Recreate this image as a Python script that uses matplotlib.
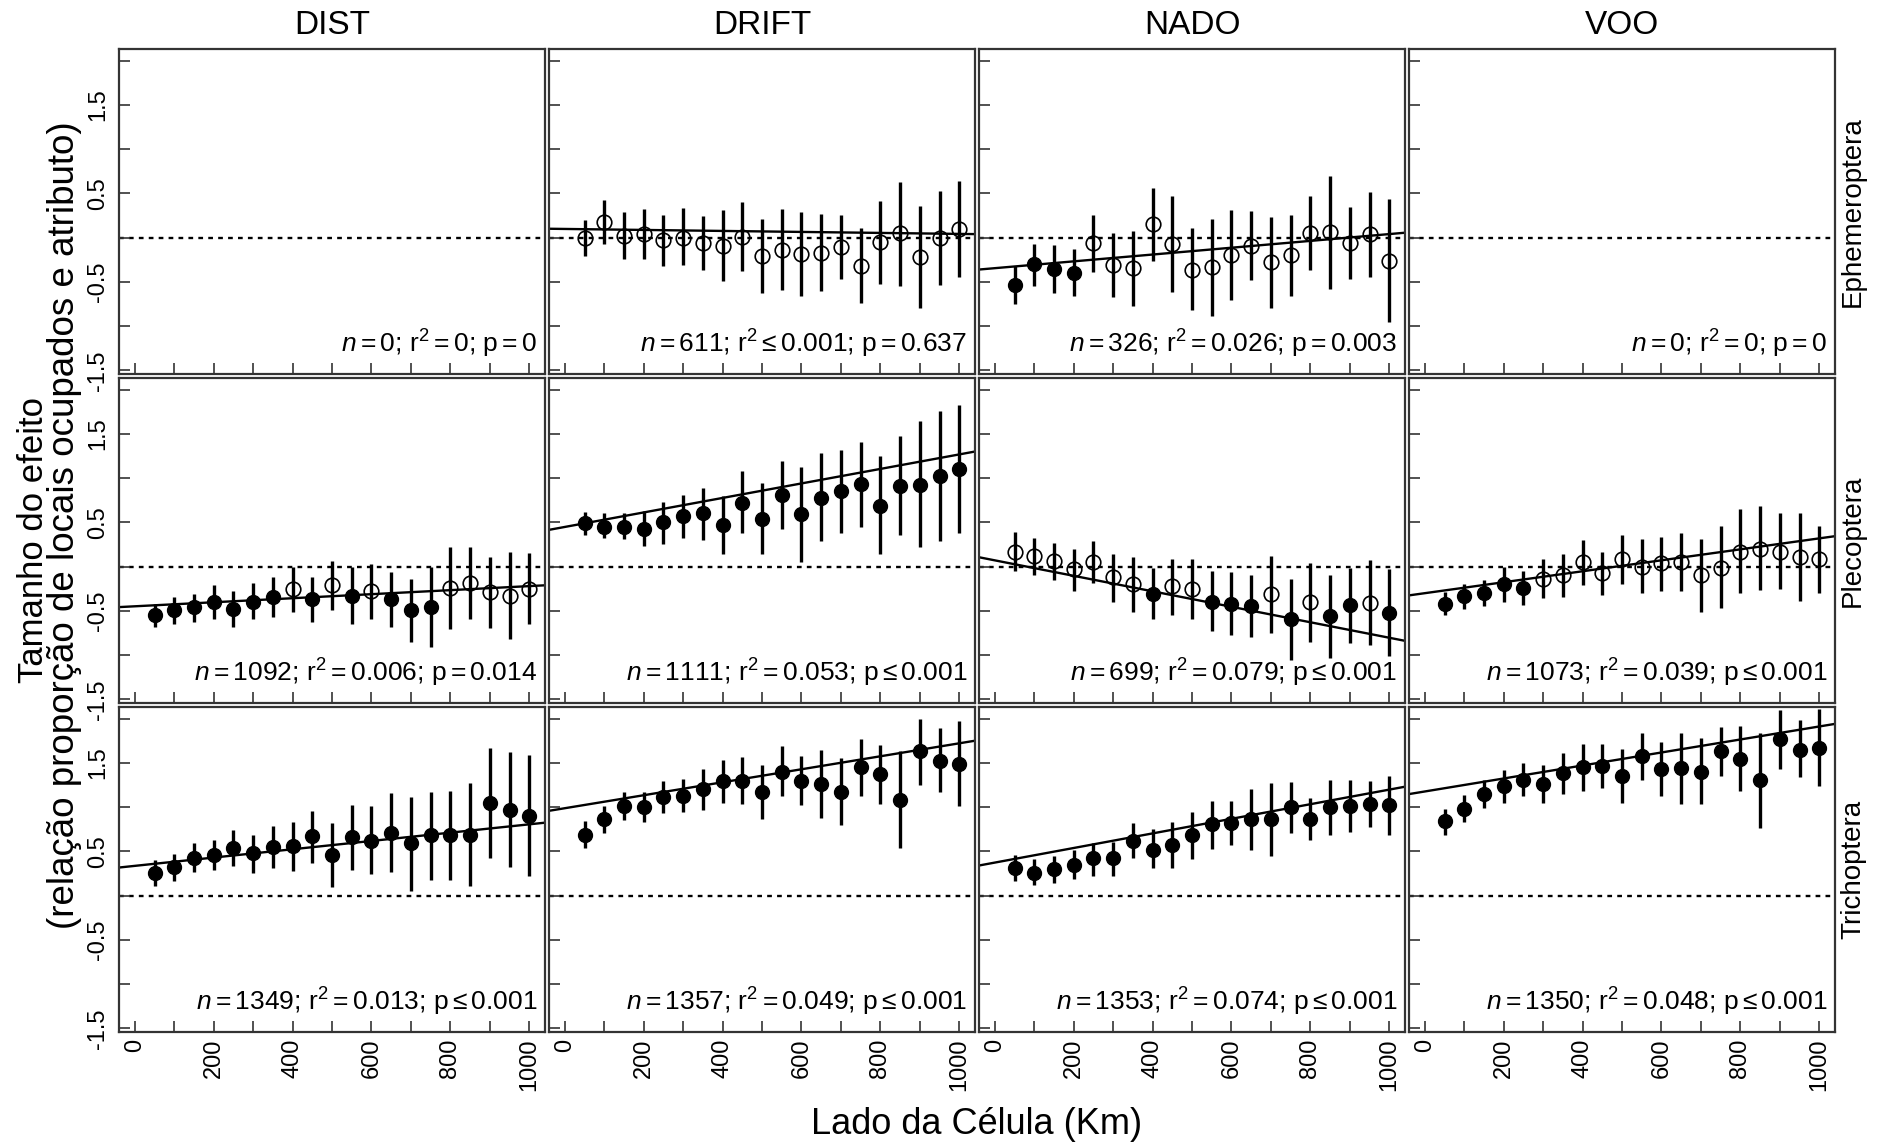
import matplotlib
matplotlib.use("Agg")
import matplotlib.pyplot as plt
from matplotlib.ticker import FixedLocator

plt.rcParams['font.family'] = ['Liberation Sans', 'DejaVu Sans']
plt.rcParams['mathtext.fontset'] = 'custom'
plt.rcParams['mathtext.rm'] = 'Liberation Sans'
plt.rcParams['mathtext.it'] = 'Liberation Sans:italic'

# --- data ---
x = [50, 100, 150, 200, 250, 300, 350, 400, 450, 500,
     550, 600, 650, 700, 750, 800, 850, 900, 950, 1000]

cols = ["DIST", "DRIFT", "NADO", "VOO"]
rows = ["Ephemeroptera", "Plecoptera", "Trichoptera"]

# Ephemeroptera / DRIFT
drift_eph_mean = [0.00, 0.18, 0.02, 0.04, -0.03, 0.00, -0.06, -0.09, 0.01, -0.21,
                  -0.14, -0.19, -0.17, -0.11, -0.32, -0.05, 0.05, -0.22, 0.00, 0.10]
drift_eph_hi = [0.20, 0.42, 0.29, 0.32, 0.26, 0.33, 0.24, 0.31, 0.40, 0.21,
                0.32, 0.29, 0.27, 0.26, 0.11, 0.41, 0.63, 0.36, 0.53, 0.64]
drift_eph_lo = [-0.21, -0.07, -0.24, -0.24, -0.32, -0.31, -0.36, -0.49, -0.38, -0.63,
                -0.59, -0.66, -0.60, -0.47, -0.74, -0.52, -0.55, -0.80, -0.53, -0.45]
drift_eph_sig = [0] * 20

# Ephemeroptera / NADO
nado_eph_mean = [-0.53, -0.30, -0.35, -0.40, -0.06, -0.31, -0.34, 0.15, -0.07, -0.36,
                 -0.33, -0.20, -0.09, -0.28, -0.20, 0.05, 0.06, -0.06, 0.04, -0.26]
nado_eph_hi = [-0.32, -0.07, -0.08, -0.13, 0.26, 0.05, 0.08, 0.56, 0.47, 0.11,
               0.21, 0.31, 0.30, 0.23, 0.26, 0.47, 0.70, 0.35, 0.51, 0.44]
nado_eph_lo = [-0.75, -0.55, -0.62, -0.66, -0.39, -0.67, -0.77, -0.26, -0.61, -0.82,
               -0.89, -0.71, -0.48, -0.79, -0.66, -0.37, -0.58, -0.47, -0.44, -0.95]
nado_eph_sig = [1, 1, 1, 1, 0, 0, 0, 0, 0, 0, 0, 0, 0, 0, 0, 0, 0, 0, 0, 0]

# Plecoptera / DIST
dist_ple_mean = [-0.55, -0.49, -0.46, -0.40, -0.48, -0.40, -0.34, -0.25, -0.37, -0.21,
                 -0.33, -0.28, -0.37, -0.49, -0.46, -0.24, -0.18, -0.29, -0.33, -0.25]
dist_ple_hi = [-0.42, -0.34, -0.31, -0.21, -0.28, -0.18, -0.12, 0.00, -0.12, 0.06,
               0.00, 0.03, -0.06, -0.14, 0.00, 0.22, 0.22, 0.11, 0.16, 0.15]
dist_ple_lo = [-0.68, -0.65, -0.62, -0.59, -0.68, -0.59, -0.57, -0.51, -0.62, -0.49,
               -0.65, -0.59, -0.68, -0.85, -0.91, -0.70, -0.59, -0.69, -0.82, -0.65]
dist_ple_sig = [1, 1, 1, 1, 1, 1, 1, 0, 1, 0, 1, 0, 1, 1, 1, 0, 0, 0, 0, 0]

# Plecoptera / DRIFT
drift_ple_mean = [0.49, 0.45, 0.45, 0.43, 0.50, 0.57, 0.60, 0.47, 0.72, 0.54,
                  0.81, 0.59, 0.78, 0.85, 0.93, 0.69, 0.91, 0.92, 1.02, 1.10]
drift_ple_hi = [0.62, 0.60, 0.60, 0.63, 0.73, 0.81, 0.89, 0.80, 1.08, 0.94,
                1.19, 1.12, 1.28, 1.32, 1.41, 1.25, 1.48, 1.64, 1.76, 1.82]
drift_ple_lo = [0.36, 0.32, 0.31, 0.23, 0.26, 0.32, 0.30, 0.14, 0.38, 0.14,
                0.42, 0.05, 0.29, 0.38, 0.45, 0.14, 0.36, 0.22, 0.29, 0.38]
drift_ple_sig = [1] * 20

# Plecoptera / NADO
nado_ple_mean = [0.17, 0.12, 0.06, -0.03, 0.05, -0.12, -0.20, -0.31, -0.22, -0.25,
                 -0.40, -0.42, -0.44, -0.31, -0.59, -0.40, -0.56, -0.43, -0.41, -0.52]
nado_ple_hi = [0.39, 0.32, 0.27, 0.20, 0.29, 0.14, 0.11, -0.02, 0.09, 0.09,
               -0.05, -0.06, -0.10, 0.12, -0.14, 0.04, -0.10, -0.02, 0.07, -0.03]
nado_ple_lo = [-0.05, -0.10, -0.15, -0.28, -0.18, -0.40, -0.51, -0.59, -0.55, -0.59,
               -0.73, -0.77, -0.80, -0.75, -1.05, -0.85, -1.03, -0.86, -0.88, -1.01]
nado_ple_sig = [0, 0, 0, 0, 0, 0, 0, 1, 0, 0, 1, 1, 1, 0, 1, 0, 1, 1, 0, 1]

# Plecoptera / VOO
voo_ple_mean = [-0.42, -0.33, -0.30, -0.20, -0.24, -0.14, -0.10, 0.05, -0.07, 0.09,
                0.00, 0.04, 0.05, -0.10, -0.01, 0.17, 0.20, 0.17, 0.11, 0.09]
voo_ple_hi = [-0.29, -0.20, -0.15, 0.00, -0.05, 0.09, 0.14, 0.30, 0.17, 0.36,
              0.31, 0.34, 0.38, 0.31, 0.46, 0.65, 0.68, 0.61, 0.61, 0.46]
voo_ple_lo = [-0.55, -0.48, -0.45, -0.40, -0.43, -0.35, -0.34, -0.21, -0.32, -0.20,
              -0.30, -0.27, -0.28, -0.51, -0.47, -0.30, -0.26, -0.25, -0.39, -0.30]
voo_ple_sig = [1, 1, 1, 1, 1, 0, 0, 0, 0, 0, 0, 0, 0, 0, 0, 0, 0, 0, 0, 0]

# Trichoptera / DIST
dist_tri_mean = [0.26, 0.32, 0.43, 0.46, 0.54, 0.48, 0.55, 0.56, 0.67, 0.46,
                 0.66, 0.62, 0.71, 0.59, 0.68, 0.69, 0.69, 1.05, 0.97, 0.90]
dist_tri_hi = [0.40, 0.47, 0.59, 0.63, 0.74, 0.69, 0.79, 0.83, 0.95, 0.82,
               1.02, 1.01, 1.16, 1.11, 1.17, 1.18, 1.27, 1.67, 1.62, 1.59]
dist_tri_lo = [0.11, 0.17, 0.27, 0.29, 0.33, 0.26, 0.31, 0.28, 0.37, 0.10,
               0.29, 0.24, 0.27, 0.05, 0.18, 0.18, 0.11, 0.43, 0.32, 0.22]
dist_tri_sig = [1] * 20

# Trichoptera / DRIFT
drift_tri_mean = [0.69, 0.86, 1.01, 1.00, 1.11, 1.13, 1.20, 1.29, 1.29, 1.17,
                  1.40, 1.30, 1.26, 1.17, 1.45, 1.37, 1.08, 1.63, 1.52, 1.49]
drift_tri_hi = [0.84, 1.01, 1.17, 1.17, 1.30, 1.32, 1.43, 1.53, 1.56, 1.48,
                1.69, 1.58, 1.65, 1.55, 1.77, 1.70, 1.63, 2.00, 1.89, 1.97]
drift_tri_lo = [0.54, 0.71, 0.85, 0.83, 0.93, 0.94, 0.97, 1.05, 1.03, 0.87,
                1.12, 1.02, 0.88, 0.80, 1.12, 1.04, 0.54, 1.25, 1.17, 1.01]
drift_tri_sig = [1] * 20

# Trichoptera / NADO
nado_tri_mean = [0.31, 0.26, 0.30, 0.35, 0.42, 0.42, 0.62, 0.52, 0.57, 0.68,
                 0.81, 0.82, 0.86, 0.86, 1.00, 0.86, 1.00, 1.01, 1.03, 1.02]
nado_tri_hi = [0.46, 0.41, 0.45, 0.51, 0.59, 0.61, 0.82, 0.75, 0.83, 0.94,
               1.07, 1.07, 1.20, 1.27, 1.28, 1.10, 1.31, 1.31, 1.29, 1.35]
nado_tri_lo = [0.16, 0.12, 0.14, 0.19, 0.22, 0.22, 0.43, 0.31, 0.31, 0.41,
               0.53, 0.57, 0.52, 0.45, 0.71, 0.63, 0.69, 0.72, 0.78, 0.68]
nado_tri_sig = [1] * 20

# Trichoptera / VOO
voo_tri_mean = [0.84, 0.98, 1.15, 1.24, 1.31, 1.26, 1.38, 1.45, 1.46, 1.35,
                1.58, 1.43, 1.44, 1.40, 1.63, 1.54, 1.31, 1.77, 1.65, 1.67]
voo_tri_hi = [0.98, 1.14, 1.31, 1.42, 1.50, 1.48, 1.61, 1.71, 1.71, 1.66,
              1.84, 1.74, 1.84, 1.78, 1.90, 1.91, 1.84, 2.10, 1.98, 2.11]
voo_tri_lo = [0.68, 0.83, 0.99, 1.05, 1.12, 1.05, 1.15, 1.18, 1.21, 1.05,
              1.31, 1.12, 1.04, 1.03, 1.35, 1.18, 0.76, 1.43, 1.34, 1.24]
voo_tri_sig = [1] * 20

# regression fits (intercept, slope) and stats text
fit_a = {(0, 1): 0.098, (0, 2): -0.345,
         (1, 0): -0.448, (1, 1): 0.448, (1, 2): 0.071, (1, 3): -0.300,
         (2, 0): 0.336, (2, 1): 0.987, (2, 2): 0.373, (2, 3): 1.176}
fit_b = {(0, 1): -5.6e-5, (0, 2): 3.85e-4,
         (1, 0): 2.28e-4, (1, 1): 8.19e-4, (1, 2): -8.74e-4, (1, 3): 6.19e-4,
         (2, 0): 4.69e-4, (2, 1): 7.33e-4, (2, 2): 8.24e-4, (2, 3): 7.34e-4}

stats = [
    [r"$\mathit{n} = 0$; r$^2 = 0$; p$ = 0$",
     r"$\mathit{n} = 611$; r$^2 \leq 0.001$; p$ = 0.637$",
     r"$\mathit{n} = 326$; r$^2 = 0.026$; p$ = 0.003$",
     r"$\mathit{n} = 0$; r$^2 = 0$; p$ = 0$"],
    [r"$\mathit{n} = 1092$; r$^2 = 0.006$; p$ = 0.014$",
     r"$\mathit{n} = 1111$; r$^2 = 0.053$; p$ \leq 0.001$",
     r"$\mathit{n} = 699$; r$^2 = 0.079$; p$ \leq 0.001$",
     r"$\mathit{n} = 1073$; r$^2 = 0.039$; p$ \leq 0.001$"],
    [r"$\mathit{n} = 1349$; r$^2 = 0.013$; p$ \leq 0.001$",
     r"$\mathit{n} = 1357$; r$^2 = 0.049$; p$ \leq 0.001$",
     r"$\mathit{n} = 1353$; r$^2 = 0.074$; p$ \leq 0.001$",
     r"$\mathit{n} = 1350$; r$^2 = 0.048$; p$ \leq 0.001$"],
]

panels = {
    (0, 1): (drift_eph_mean, drift_eph_lo, drift_eph_hi, drift_eph_sig),
    (0, 2): (nado_eph_mean, nado_eph_lo, nado_eph_hi, nado_eph_sig),
    (1, 0): (dist_ple_mean, dist_ple_lo, dist_ple_hi, dist_ple_sig),
    (1, 1): (drift_ple_mean, drift_ple_lo, drift_ple_hi, drift_ple_sig),
    (1, 2): (nado_ple_mean, nado_ple_lo, nado_ple_hi, nado_ple_sig),
    (1, 3): (voo_ple_mean, voo_ple_lo, voo_ple_hi, voo_ple_sig),
    (2, 0): (dist_tri_mean, dist_tri_lo, dist_tri_hi, dist_tri_sig),
    (2, 1): (drift_tri_mean, drift_tri_lo, drift_tri_hi, drift_tri_sig),
    (2, 2): (nado_tri_mean, nado_tri_lo, nado_tri_hi, nado_tri_sig),
    (2, 3): (voo_tri_mean, voo_tri_lo, voo_tri_hi, voo_tri_sig),
}

# --- layout (pixels) ---
W, H = 1892, 1147
col_left = [119, 549, 979, 1409]
row_top = [49, 378, 707]
pw, ph = 426, 325
xlim = (-40, 1040)
ylim = (-1.54, 2.13)
frame = "#333333"

fig = plt.figure(figsize=(W / 100, H / 100), dpi=100)

for r in range(3):
    for c in range(4):
        ax = fig.add_axes([col_left[c] / W, (H - row_top[r] - ph) / H, pw / W, ph / H])
        ax.set_xlim(*xlim)
        ax.set_ylim(*ylim)
        for s in ax.spines.values():
            s.set_color(frame)
            s.set_linewidth(1.6)

        ax.axhline(0, color="black", lw=1.7, ls=(0, (2, 2.2)), zorder=1)

        if (r, c) in panels:
            mean, lo, hi, sig = panels[(r, c)]
            a, b = fit_a[(r, c)], fit_b[(r, c)]
            ax.plot(xlim, [a + b * xlim[0], a + b * xlim[1]], color="black", lw=1.7, zorder=2)
            ax.vlines(x, lo, hi, color="black", lw=2.4, zorder=3)
            xf = [xi for xi, s in zip(x, sig) if s]
            yf = [yi for yi, s in zip(mean, sig) if s]
            xo = [xi for xi, s in zip(x, sig) if not s]
            yo = [yi for yi, s in zip(mean, sig) if not s]
            ax.plot(xf, yf, "o", color="black", ms=10, zorder=4)
            ax.plot(xo, yo, "o", mfc="none", mec="black", mew=1.2, ms=10.5, zorder=4)

        ax.text(0.982, 0.065, stats[r][c], transform=ax.transAxes,
                ha="right", va="baseline", fontsize=19)

        ax.yaxis.set_major_locator(FixedLocator([-1.5, -1.0, -0.5, 0, 0.5, 1.0, 1.5, 2.0]))
        ax.xaxis.set_major_locator(FixedLocator(list(range(0, 1001, 100))))
        ax.tick_params(direction="in", length=8, width=1.2, color=frame,
                       labelsize=17, top=False, right=False)
        if c == 0:
            ax.set_yticklabels(["-1.5", "", "-0.5", "", "0.5", "", "1.5", ""],
                               rotation=90, va="center")
            ax.tick_params(axis="y", pad=7)
        else:
            ax.set_yticklabels([])
        if r == 2:
            ax.set_xticklabels([str(v) if v % 200 == 0 else "" for v in range(0, 1001, 100)],
                               rotation=90, ha="center", va="top")
            ax.tick_params(axis="x", pad=5)
        else:
            ax.set_xticklabels([])

for c, name in enumerate(cols):
    fig.text((col_left[c] + pw / 2) / W, 1 - 25 / H, name, ha="center", va="center", fontsize=24)

for r, name in enumerate(rows):
    fig.text(1853 / W, 1 - (row_top[r] + ph / 2) / H, name, rotation=90,
             ha="center", va="center", fontsize=20)

fig.text(34 / W, 1 - 540 / H, "Tamanho do efeito", rotation=90,
         ha="center", va="center", fontsize=25)
fig.text(65 / W, 1 - 525 / H, "(relação proporção de locais ocupados e atributo)", rotation=90,
         ha="center", va="center", fontsize=26.5)
fig.text((col_left[0] + col_left[3] + pw) / 2 / W, 1 - 1125 / H, "Lado da Célula (Km)",
         ha="center", va="center", fontsize=26)

fig.savefig("out.png", dpi=100)
